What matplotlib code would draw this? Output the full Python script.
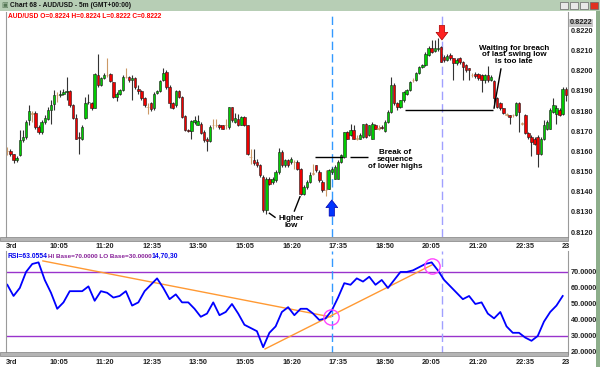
import matplotlib
matplotlib.use("Agg")
import matplotlib.pyplot as plt
from matplotlib.patches import Rectangle
import numpy as np

# ---- price data (5m AUD/USD candles) ----
opens = [
    0.81600, 0.81601, 0.81589, 0.81559, 0.81581, 0.81655, 0.81670, 0.81755, 0.81788, 0.81793,
    0.81722, 0.81694, 0.81747, 0.81763, 0.81805, 0.81833, 0.81879, 0.81879, 0.81887, 0.81896,
    0.81899, 0.81829, 0.81766, 0.81672, 0.81664, 0.81766, 0.81843, 0.81838, 0.81816, 0.81979,
    0.81929, 0.81962, 0.81979, 0.81982, 0.81942, 0.81871, 0.81887, 0.81904, 0.81970, 0.81970,
    0.81954, 0.81962, 0.81912, 0.81899, 0.81863, 0.81821, 0.81838, 0.81813, 0.81892, 0.81899,
    0.81954, 0.81995, 0.81921, 0.81838, 0.81829, 0.81899, 0.81871, 0.81777, 0.81705, 0.81700,
    0.81747, 0.81733, 0.81738, 0.81697, 0.81664, 0.81650, 0.81730, 0.81730, 0.81730, 0.81730,
    0.81730, 0.81722, 0.81821, 0.81747, 0.81763, 0.81733, 0.81771, 0.81730, 0.81572, 0.81556,
    0.81547, 0.81531, 0.81473, 0.81307, 0.81465, 0.81448, 0.81456, 0.81498, 0.81597, 0.81531,
    0.81556, 0.81547, 0.81547, 0.81547, 0.81514, 0.81390, 0.81423, 0.81448, 0.81490, 0.81531,
    0.81498, 0.81448, 0.81406, 0.81415, 0.81498, 0.81465, 0.81465, 0.81547, 0.81572, 0.81697,
    0.81680, 0.81705, 0.81664, 0.81664, 0.81672, 0.81738, 0.81680, 0.81664, 0.81730, 0.81713,
    0.81722, 0.81700, 0.81747, 0.81796, 0.81929, 0.81838, 0.81821, 0.81854, 0.81887, 0.81904,
    0.81954, 0.81954, 0.81987, 0.82020, 0.82028, 0.82078, 0.82111, 0.82098, 0.82108, 0.82120,
    0.82070, 0.82053, 0.82078, 0.82062, 0.82037, 0.82062, 0.82045, 0.82028, 0.82012, 0.81979,
    0.81982, 0.81982, 0.81979, 0.81954, 0.81979, 0.81954, 0.81949, 0.81863, 0.81838, 0.81813,
    0.81783, 0.81780, 0.81780, 0.81780, 0.81838, 0.81738, 0.81780, 0.81689, 0.81672, 0.81664,
    0.81672, 0.81589, 0.81664, 0.81713, 0.81713, 0.81796, 0.81788, 0.81805, 0.81788, 0.81912,
]
highs = [
    0.81622, 0.81611, 0.81589, 0.81577, 0.81705, 0.81705, 0.81755, 0.81829, 0.81800, 0.81800,
    0.81730, 0.81755, 0.81780, 0.81821, 0.81854, 0.81904, 0.81896, 0.81904, 0.81912, 0.81970,
    0.81904, 0.81833, 0.81788, 0.81697, 0.81730, 0.81871, 0.81887, 0.81846, 0.81987, 0.82081,
    0.81970, 0.81987, 0.82062, 0.81987, 0.81946, 0.81896, 0.81912, 0.81979, 0.82015, 0.81975,
    0.81979, 0.81970, 0.81929, 0.81904, 0.81871, 0.81838, 0.81843, 0.81896, 0.81904, 0.81954,
    0.82012, 0.82004, 0.81929, 0.81846, 0.81904, 0.81904, 0.81876, 0.81780, 0.81713, 0.81755,
    0.81777, 0.81783, 0.81747, 0.81705, 0.81672, 0.81730, 0.81760, 0.81760, 0.81738, 0.81733,
    0.81763, 0.81821, 0.81821, 0.81793, 0.81788, 0.81777, 0.81777, 0.81733, 0.81614, 0.81611,
    0.81564, 0.81539, 0.81481, 0.81473, 0.81473, 0.81473, 0.81506, 0.81617, 0.81606, 0.81564,
    0.81564, 0.81572, 0.81556, 0.81556, 0.81518, 0.81431, 0.81456, 0.81498, 0.81539, 0.81534,
    0.81506, 0.81456, 0.81506, 0.81514, 0.81523, 0.81531, 0.81556, 0.81589, 0.81697, 0.81700,
    0.81738, 0.81730, 0.81680, 0.81689, 0.81738, 0.81743, 0.81733, 0.81747, 0.81738, 0.81730,
    0.81730, 0.81755, 0.81805, 0.81970, 0.81937, 0.81843, 0.81854, 0.81899, 0.81912, 0.81949,
    0.81962, 0.81995, 0.82025, 0.82032, 0.82091, 0.82125, 0.82153, 0.82153, 0.82161, 0.82125,
    0.82078, 0.82081, 0.82086, 0.82065, 0.82065, 0.82070, 0.82048, 0.82032, 0.82015, 0.81987,
    0.81995, 0.81987, 0.81982, 0.81982, 0.82025, 0.81979, 0.81954, 0.81871, 0.81843, 0.81816,
    0.81793, 0.81783, 0.81788, 0.81843, 0.81843, 0.81747, 0.81788, 0.81694, 0.81680, 0.81672,
    0.81680, 0.81672, 0.81755, 0.81755, 0.81813, 0.81863, 0.81829, 0.81813, 0.81921, 0.81921,
]
lows = [
    0.81581, 0.81577, 0.81544, 0.81547, 0.81577, 0.81647, 0.81664, 0.81730, 0.81747, 0.81713,
    0.81684, 0.81684, 0.81738, 0.81755, 0.81738, 0.81805, 0.81843, 0.81871, 0.81879, 0.81854,
    0.81821, 0.81763, 0.81664, 0.81589, 0.81655, 0.81763, 0.81833, 0.81805, 0.81813, 0.81921,
    0.81926, 0.81959, 0.81970, 0.81946, 0.81863, 0.81849, 0.81879, 0.81899, 0.81962, 0.81946,
    0.81854, 0.81912, 0.81887, 0.81854, 0.81821, 0.81788, 0.81800, 0.81805, 0.81887, 0.81896,
    0.81949, 0.81912, 0.81813, 0.81810, 0.81821, 0.81866, 0.81766, 0.81700, 0.81694, 0.81664,
    0.81738, 0.81730, 0.81684, 0.81647, 0.81601, 0.81647, 0.81713, 0.81722, 0.81713, 0.81710,
    0.81710, 0.81713, 0.81747, 0.81743, 0.81727, 0.81730, 0.81727, 0.81581, 0.81539, 0.81531,
    0.81523, 0.81473, 0.81299, 0.81291, 0.81431, 0.81440, 0.81448, 0.81490, 0.81523, 0.81523,
    0.81523, 0.81539, 0.81514, 0.81506, 0.81385, 0.81385, 0.81415, 0.81445, 0.81481, 0.81498,
    0.81448, 0.81401, 0.81378, 0.81411, 0.81490, 0.81461, 0.81461, 0.81544, 0.81567, 0.81660,
    0.81677, 0.81660, 0.81655, 0.81660, 0.81667, 0.81667, 0.81677, 0.81660, 0.81710, 0.81705,
    0.81710, 0.81697, 0.81743, 0.81793, 0.81829, 0.81805, 0.81813, 0.81846, 0.81879, 0.81899,
    0.81946, 0.81949, 0.81982, 0.82015, 0.82025, 0.82075, 0.82086, 0.82095, 0.82098, 0.82042,
    0.82045, 0.82048, 0.82053, 0.81954, 0.82028, 0.82032, 0.81954, 0.81995, 0.81954, 0.81970,
    0.81965, 0.81954, 0.81896, 0.81937, 0.81946, 0.81949, 0.81821, 0.81813, 0.81805, 0.81788,
    0.81777, 0.81738, 0.81771, 0.81777, 0.81697, 0.81730, 0.81684, 0.81664, 0.81577, 0.81631,
    0.81523, 0.81581, 0.81655, 0.81705, 0.81710, 0.81793, 0.81738, 0.81777, 0.81783, 0.81849,
]
closes = [
    0.81600, 0.81589, 0.81556, 0.81567, 0.81655, 0.81672, 0.81747, 0.81800, 0.81788, 0.81722,
    0.81697, 0.81747, 0.81766, 0.81805, 0.81829, 0.81879, 0.81879, 0.81887, 0.81896, 0.81899,
    0.81829, 0.81766, 0.81664, 0.81667, 0.81722, 0.81838, 0.81846, 0.81813, 0.81982, 0.81929,
    0.81962, 0.81979, 0.81979, 0.81949, 0.81871, 0.81887, 0.81904, 0.81970, 0.81970, 0.81954,
    0.81962, 0.81921, 0.81899, 0.81863, 0.81829, 0.81821, 0.81810, 0.81887, 0.81899, 0.81949,
    0.81987, 0.81921, 0.81838, 0.81816, 0.81899, 0.81871, 0.81771, 0.81705, 0.81700, 0.81750,
    0.81755, 0.81750, 0.81689, 0.81655, 0.81650, 0.81722, 0.81730, 0.81730, 0.81722, 0.81713,
    0.81730, 0.81821, 0.81755, 0.81766, 0.81733, 0.81771, 0.81730, 0.81589, 0.81572, 0.81544,
    0.81531, 0.81481, 0.81307, 0.81465, 0.81440, 0.81461, 0.81498, 0.81597, 0.81531, 0.81556,
    0.81531, 0.81564, 0.81547, 0.81514, 0.81390, 0.81423, 0.81448, 0.81485, 0.81490, 0.81506,
    0.81456, 0.81406, 0.81406, 0.81506, 0.81514, 0.81523, 0.81547, 0.81581, 0.81697, 0.81664,
    0.81705, 0.81664, 0.81664, 0.81680, 0.81738, 0.81672, 0.81730, 0.81738, 0.81713, 0.81713,
    0.81717, 0.81747, 0.81796, 0.81929, 0.81838, 0.81821, 0.81854, 0.81896, 0.81904, 0.81946,
    0.81954, 0.81987, 0.82020, 0.82028, 0.82081, 0.82111, 0.82095, 0.82115, 0.82115, 0.82045,
    0.82053, 0.82075, 0.82062, 0.82037, 0.82053, 0.82042, 0.82020, 0.82004, 0.82004, 0.81979,
    0.81975, 0.81962, 0.81954, 0.81979, 0.81954, 0.81970, 0.81863, 0.81821, 0.81813, 0.81793,
    0.81783, 0.81771, 0.81780, 0.81838, 0.81796, 0.81738, 0.81689, 0.81672, 0.81647, 0.81639,
    0.81589, 0.81664, 0.81730, 0.81747, 0.81805, 0.81829, 0.81813, 0.81783, 0.81912, 0.81879,
]

# RSI(14) read every second bar
rsi_bars = list(range(0, 180, 2))
rsi_vals = [
    62, 55, 60, 70, 75, 76, 65, 57, 47, 51,
    58, 58, 58, 61, 52, 58, 57, 54, 55, 58,
    49, 51, 58, 62, 66, 60, 53, 56, 51, 51,
    47, 42, 44, 51, 43, 45, 50, 44, 37, 35,
    33, 23, 32, 36, 45, 48, 43, 47, 47, 44,
    40, 41, 46, 54, 63, 62, 66, 64, 67, 62,
    65, 60, 65, 70, 70, 71, 73, 75, 76, 71,
    65, 61, 57, 53, 55, 50, 51, 44, 41, 45,
    36, 32, 32, 29, 27, 30, 39, 45, 49, 55,
]

time_labels = ["3rd", "10:05", "11:20", "12:35", "13:50", "15:05", "16:20",
               "17:35", "18:50", "20:05", "21:20", "22:35", "23"]
price_ticks = [0.8120, 0.8130, 0.8140, 0.8150, 0.8160, 0.8170,
               0.8180, 0.8190, 0.8200, 0.8210, 0.8220]
rsi_ticks = [20, 30, 40, 50, 60, 70]

W, H = 600, 367
plt.rcParams['font.family'] = ['Liberation Sans', 'DejaVu Sans']
fig = plt.figure(figsize=(6, 3.67), dpi=100)
fig.patch.set_facecolor('white')


def px_axes(l, t, w, h):
    return fig.add_axes([l / W, 1 - (t + h) / H, w / W, h / H])


def fx(x):
    return x / W


def fy(y):
    return 1 - y / H


# window chrome
fig.patches.append(Rectangle((0, fy(11)), 1, 11 / H, transform=fig.transFigure,
                             facecolor='#B7CEB5', edgecolor='none', zorder=0))
fig.patches.append(Rectangle((fx(596), 0), 4 / W, fy(11), transform=fig.transFigure,
                             facecolor='#8DAE8B', edgecolor='none', zorder=0))
fig.text(fx(1), fy(6), "\u25a3", fontsize=5, color='#557755', va='center')
fig.text(fx(10), fy(5.5), "Chart 68 - AUD/USD - 5m (GMT+00:00)", fontsize=4.8,
         fontweight='bold', va='center', color='#111111')
for bx, bc in [(560, '#E8E8E8'), (570, '#E8E8E8'), (580, '#E8E8E8'), (590, '#E03020')]:
    fig.patches.append(Rectangle((fx(bx), fy(9)), 8 / W, 7 / H, transform=fig.transFigure,
                                 facecolor=bc, edgecolor='#666666', linewidth=0.5))

# separators under each panel
for sy in (237, 352):
    fig.patches.append(Rectangle((0, fy(sy + 4)), fx(568), 4 / H, transform=fig.transFigure,
                                 facecolor='#B4B4B4', edgecolor='#808080', linewidth=0.5))

xs = np.arange(len(closes))
o = np.array(opens)
h = np.array(highs)
l = np.array(lows)
c = np.array(closes)

tick_pos = [-0.35] + [13.4 + 14.94 * k for k in range(12)]

# ---- main price panel ----
ax = px_axes(6, 12, 562, 225)
ax.set_xlim(-0.42, 179.7)
ax.set_ylim(0.811752, 0.822918)

body_col = np.where(c > o, '#00CC00', np.where(c < o, '#EE0000', '#CC9966'))
wick_col = np.where(c == o, '#CC9966', '#333333')
ax.vlines(xs, l, h, colors=wick_col, linewidth=0.8, zorder=2)
ax.bar(xs, np.maximum(np.abs(c - o), 0.000015), bottom=np.minimum(o, c), width=0.8,
       color=body_col, edgecolor=np.where(c == o, '#CC9966', '#1A1A1A'), linewidth=0.4, zorder=3)

ax.yaxis.tick_right()
ax.set_yticks(price_ticks)
ax.set_yticklabels([f"{p:.4f}" for p in price_ticks])
ax.set_xticks(tick_pos)
ax.set_xticklabels(time_labels, ha='left')
ax.tick_params(length=0, labelsize=5.3, colors='#222222')
ax.tick_params(axis='x', pad=4.5)
ax.tick_params(axis='y', pad=2)
for lab in ax.get_xticklabels() + ax.get_yticklabels():
    lab.set_fontweight('bold')
for s in ('top', 'bottom'):
    ax.spines[s].set_visible(False)
for s in ('left', 'right'):
    ax.spines[s].set_color('#9A9A9A')

ax.axvline(104, color='#3399FF', linestyle=(0, (6, 3)), linewidth=1, zorder=1)
ax.axvline(139.3, color='#A0A0FF', linestyle=(0, (6, 3)), linewidth=1, zorder=1)

# swing lines
ax.hlines(0.81574, 98.6, 107.7, color='black', linewidth=1, zorder=4)
ax.hlines(0.81574, 109.8, 115.6, color='black', linewidth=1, zorder=4)
ax.hlines(0.81805, 127.5, 155.8, color='black', linewidth=1, zorder=4)
ax.plot([93.8, 92.0], [0.81375, 0.81304], color='black', linewidth=1, zorder=4)
ax.plot([84.0, 85.8], [0.81293, 0.81273], color='black', linewidth=1, zorder=4)
ax.plot([158.2, 156.0], [0.82009, 0.81815], color='black', linewidth=1, zorder=4)

ax.annotate('', xy=(104, 0.81359), xytext=(104, 0.81279),
            arrowprops=dict(arrowstyle='simple,head_length=0.55,head_width=0.85,tail_width=0.38',
                            fc='#0033FF', ec='#0000AA', lw=0.5, shrinkA=0, shrinkB=0,
                            mutation_scale=10), zorder=5)
ax.annotate('', xy=(139.3, 0.82153), xytext=(139.3, 0.82225),
            arrowprops=dict(arrowstyle='simple,head_length=0.55,head_width=0.85,tail_width=0.38',
                            fc='#FF2222', ec='#AA0000', lw=0.5, shrinkA=0, shrinkB=0,
                            mutation_scale=10), zorder=5)

fig.text(fx(8), fy(16.5), "AUD/USD O=0.8224 H=0.8224 L=0.8222 C=0.8222",
         fontsize=4.8, fontweight='bold', color='#FF0000', va='center', ha='left')

fig.text(fx(395), fy(159.5), "Break of\nsequence\nof lower highs", fontsize=5.8,
         fontweight='bold', ha='center', va='center', linespacing=0.95)
fig.text(fx(291), fy(222), "Higher\nlow", fontsize=5.8, fontweight='bold',
         ha='center', va='center', linespacing=0.95)
fig.text(fx(514), fy(55), "Waiting for breach\nof last swing low\nis too late", fontsize=5.8,
         fontweight='bold', ha='center', va='center', linespacing=0.95)

# last price tag
fig.text(fx(570), fy(23), "0.8222", fontsize=5.3, fontweight='bold', color='#222222',
         va='center', ha='left',
         bbox=dict(boxstyle='square,pad=0.1', facecolor='#C8C8C8', edgecolor='none'))

# ---- RSI panel ----
ax2 = px_axes(6, 251, 562, 103)
ax2.set_xlim(-0.42, 179.7)
ax2.set_ylim(18.75, 83.1)
ax2.axhline(70, color='#9933CC', linewidth=1)
ax2.axhline(30, color='#9933CC', linewidth=1)
ax2.axvline(104, color='#3399FF', linestyle=(0, (6, 3)), linewidth=1)
ax2.axvline(139.3, color='#A0A0FF', linestyle=(0, (6, 3)), linewidth=1)
ax2.plot([11.4, 103.7], [76.9, 41.9], color='#FF9933', linewidth=1)
ax2.plot([82.6, 136.1], [21.9, 74.4], color='#FF9933', linewidth=1)
ax2.plot(rsi_bars, rsi_vals, color='#0000FF', linewidth=1.3)
ax2.plot([103.7, 136.1], [41.9, 73.8], 'o', ms=11, mfc='none', mec='#FF44FF', mew=1)

ax2.yaxis.tick_right()
ax2.set_yticks(rsi_ticks)
ax2.set_yticklabels([f"{v:.4f}" for v in rsi_ticks])
ax2.set_xticks(tick_pos)
ax2.set_xticklabels(time_labels, ha='left')
ax2.tick_params(length=0, labelsize=5.3, colors='#222222')
ax2.tick_params(axis='x', pad=3.5)
ax2.tick_params(axis='y', pad=2)
for lab in ax2.get_xticklabels() + ax2.get_yticklabels():
    lab.set_fontweight('bold')
for s in ('top', 'bottom'):
    ax2.spines[s].set_visible(False)
for s in ('left', 'right'):
    ax2.spines[s].set_color('#9A9A9A')

fig.text(fx(7), fy(256), "RSI=63.0554", fontsize=4.9, fontweight='bold', color='#0000EE', va='center')
fig.text(fx(48), fy(256), "HI Base=70.0000 LO Base=30.0000", fontsize=4.6, fontweight='bold',
         color='#882299', va='center')
fig.text(fx(152), fy(256), "14,70,30", fontsize=4.9, fontweight='bold', color='#0000EE', va='center')

fig.savefig("out.png", dpi=100)
